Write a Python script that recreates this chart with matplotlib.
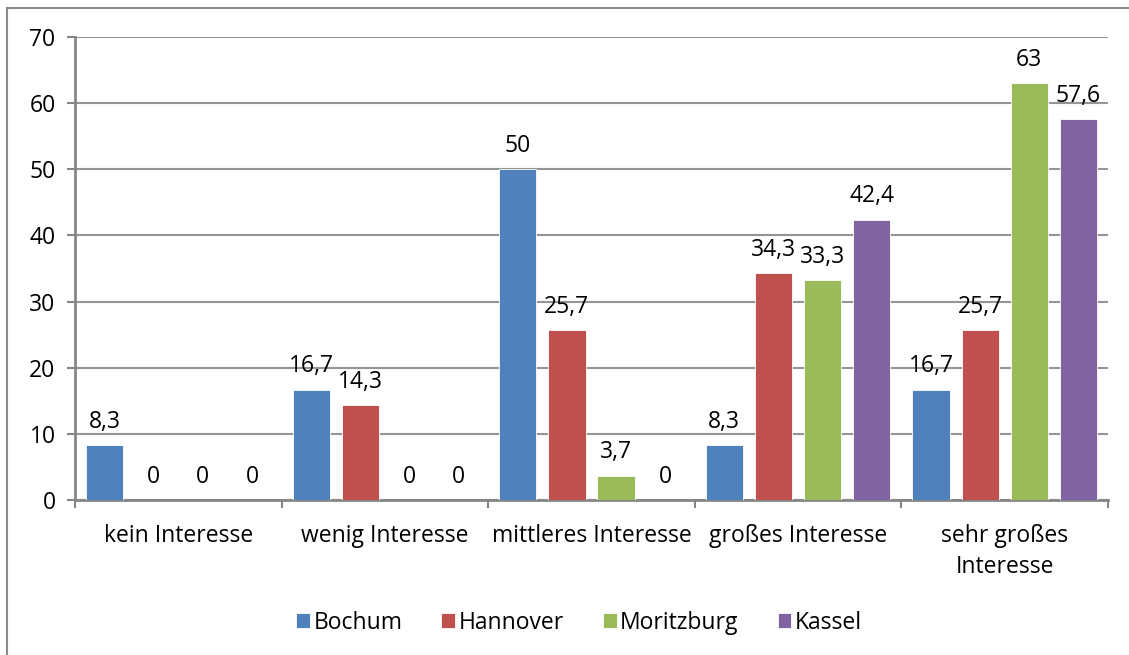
import numpy as np
import matplotlib.pyplot as plt
from matplotlib.patches import Rectangle

plt.rcParams['font.family'] = ['Open Sans', 'DejaVu Sans']

categories = ['kein Interesse', 'wenig Interesse', 'mittleres Interesse',
              'großes Interesse', 'sehr großes\nInteresse']
series = ['Bochum', 'Hannover', 'Moritzburg', 'Kassel']
bochum = [8.3, 16.7, 50, 8.3, 16.7]
hannover = [0, 14.3, 25.7, 34.3, 25.7]
moritzburg = [0, 0, 3.7, 33.3, 63]
kassel = [0, 0, 0, 42.4, 57.6]
colors = ['#4F81BD', '#C0504D', '#9BBB59', '#8064A2']

fig = plt.figure(figsize=(11.29, 6.55), dpi=100)
ax = fig.add_axes([75 / 1129, 1 - 500 / 655, (1108 - 75) / 1129, (500 - 37) / 655])

# chart border
fig.patches.append(Rectangle((7 / 1129, -0.01), 1.0, 1 - 8 / 655 + 0.01,
                             transform=fig.transFigure, fill=False,
                             edgecolor='#8a8a8a', linewidth=1.5))

x = np.arange(len(categories))
step = 0.238
width = 0.18
grey = '#868686'
fs = 16.5

for i, (name, vals) in enumerate(zip(series, [bochum, hannover, moritzburg, kassel])):
    pos = x + (i - 1.5) * step
    bars = ax.bar(pos, vals, width, color=colors[i], label=name,
                  edgecolor='white', linewidth=0.6, zorder=3)
    for b, v in zip(bars, vals):
        txt = f'{v:g}'.replace('.', ',')
        ax.annotate(txt, (b.get_x() + b.get_width() / 2, v),
                    xytext=(0, 8), textcoords='offset points',
                    ha='center', va='bottom', fontsize=fs, color='black')

ax.set_xlim(-0.5, len(categories) - 0.5)
ax.set_ylim(0, 70)
ax.set_yticks(range(0, 71, 10))
ax.yaxis.grid(True, color='#959595', linewidth=1.5, zorder=0)
ax.set_axisbelow(True)

ax.set_xticks(x)
ax.set_xticklabels(categories, fontsize=fs, linespacing=1.4)
ax.set_xticks(np.arange(-0.5, len(categories), 1), minor=True)
ax.tick_params(axis='x', which='major', length=0, pad=17)
ax.tick_params(axis='x', which='minor', length=6, width=1.5, color=grey)
ax.tick_params(axis='y', length=6, width=1.5, color=grey, labelsize=fs, pad=8)

for s in ['top', 'right']:
    ax.spines[s].set_visible(False)
for s in ['left', 'bottom']:
    ax.spines[s].set_color(grey)
    ax.spines[s].set_linewidth(2)

ax.legend(loc='center', bbox_to_anchor=(0.488, -0.265), ncol=4, frameon=False,
          fontsize=fs, handlelength=0.6, handleheight=0.6, handletextpad=0.15,
          columnspacing=1.7)

fig.savefig('out.png', dpi=100)
